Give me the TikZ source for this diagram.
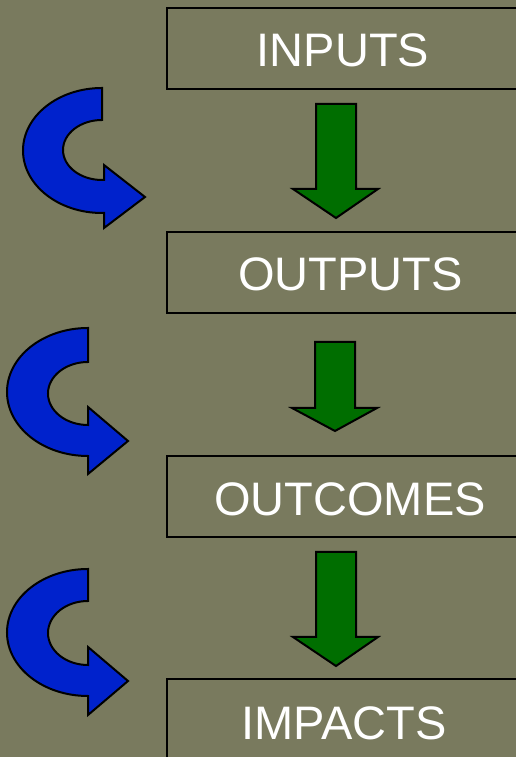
\documentclass[tikz,border=0pt]{standalone}
\usepackage{fontspec}
\setmainfont{Liberation Sans}
\definecolor{bgolive}{RGB}{121,122,94}
\definecolor{arrowblue}{RGB}{0,34,204}
\definecolor{arrowgreen}{RGB}{0,110,0}
\begin{document}
\begin{tikzpicture}[x=1pt,y=1pt,
  stagebox/.style={draw=black, line width=2pt, fill=bgolive, inner sep=0pt,
    minimum width=363pt, minimum height=81pt},
  stagetext/.style={inner sep=0pt, text=white, font=\fontsize{47}{56}\selectfont},
  downarrow/.style={draw=black, line width=2pt, fill=arrowgreen, line join=miter},
  looparrow/.style={draw=black, line width=2pt, fill=arrowblue, line join=miter}]
\useasboundingbox (0,0) rectangle (516,757);
\fill[bgolive] (0,0) rectangle (516,757);
% stage boxes
\node[stagebox] (inputs)   at (348.5,708.5) {};
\node[stagebox] (outputs)  at (348.5,484)   {};
\node[stagebox] (outcomes) at (348.5,260)   {};
\node[stagebox] (impacts)  at (348.5,37)    {};
\node[stagetext] (inputsT)   at (343,706.5)  {INPUTS};
\node[stagetext] (outputsT)  at (350.5,482.5) {OUTPUTS};
\node[stagetext] (outcomesT) at (350,258)    {OUTCOMES};
\node[stagetext] (impactsT)  at (344,34)     {IMPACTS};
% green down arrows
\draw[downarrow] (316,653) -- (356,653) -- (356,568) -- (378,568) -- (336,539) -- (293,568) -- (316,568) -- cycle;
\draw[downarrow] (315,415) -- (355,415) -- (355,349) -- (377,349) -- (335,326) -- (292,349) -- (315,349) -- cycle;
\draw[downarrow] (316,205) -- (356,205) -- (356,120) -- (378,120) -- (336,91) -- (293,120) -- (316,120) -- cycle;
% blue curved arrows
\draw[looparrow] (102,669) arc[start angle=90, end angle=270, x radius=79, y radius=62.5]
  -- (104,544) -- (104,529) -- (145,560) -- (104,592) -- (104,577) -- (102,577)
  arc[start angle=270, end angle=90, x radius=39, y radius=30] -- cycle;
\draw[looparrow] (88,429) arc[start angle=90, end angle=270, x radius=81, y radius=64]
  -- (88,283) -- (128,316) -- (88,350) -- (88,332)
  arc[start angle=270, end angle=90, x radius=40, y radius=31.5] -- cycle;
\draw[looparrow] (88,188) arc[start angle=90, end angle=270, x radius=81, y radius=63.5]
  -- (88,42) -- (128,76) -- (88,110) -- (88,92)
  arc[start angle=270, end angle=90, x radius=40, y radius=32] -- cycle;
\end{tikzpicture}
\end{document}
